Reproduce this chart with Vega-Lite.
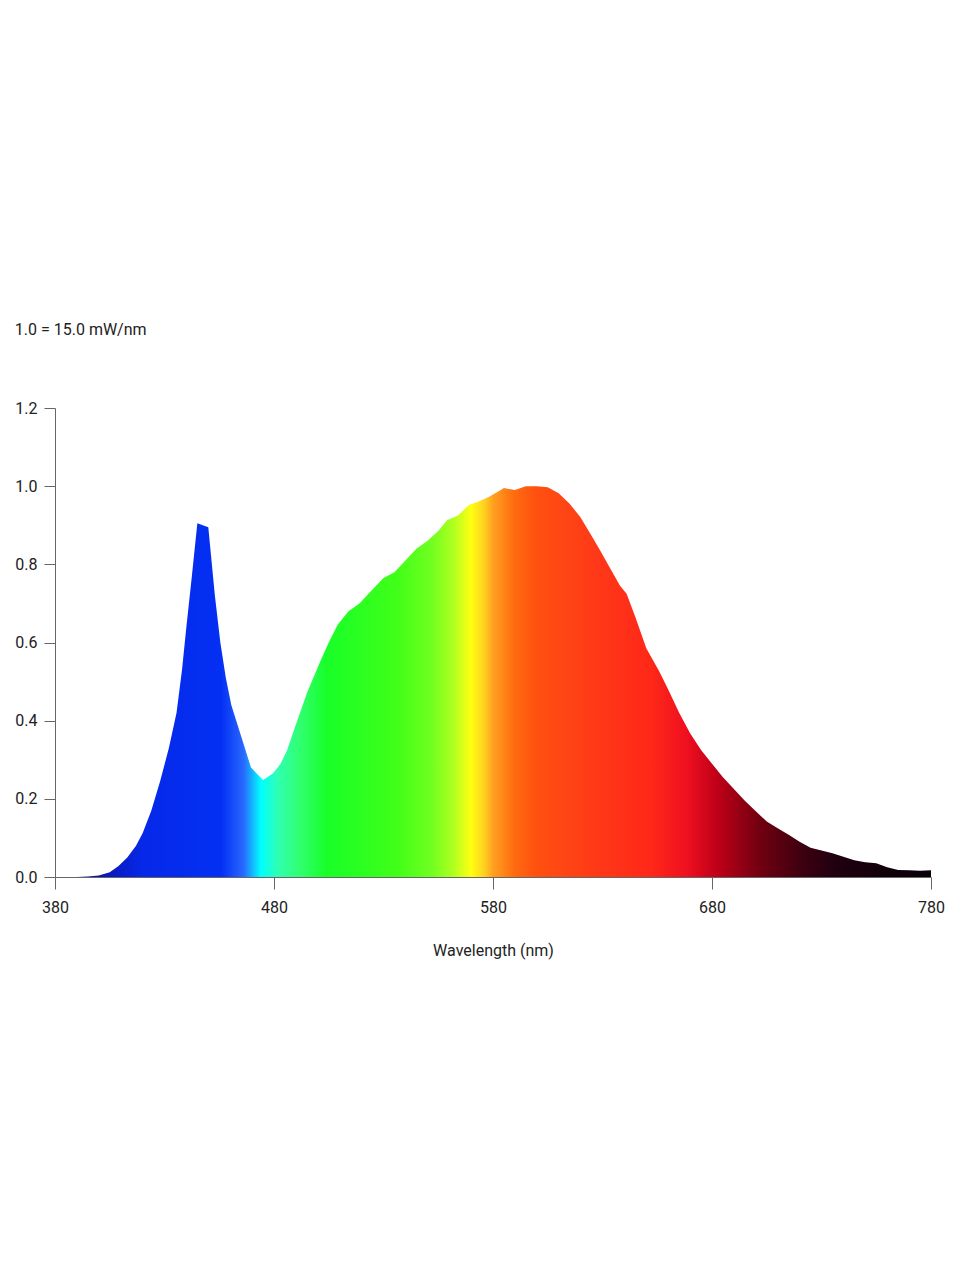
{
  "$schema": "https://vega.github.io/schema/vega-lite/v6.json",
  "autosize": {"type": "none"},
  "width": 876,
  "height": 469,
  "padding": {"left": 55, "top": 408, "right": 29, "bottom": 403},
  "background": "white",
  "title": {
    "text": "1.0 = 15.0 mW/nm",
    "anchor": "start",
    "frame": "bounds",
    "offset": 62,
    "font": "Roboto",
    "fontSize": 16,
    "fontWeight": "normal",
    "color": "#222222"
  },
  "config": {
    "view": {"stroke": null},
    "axis": {
      "grid": false,
      "domainColor": "#666666",
      "tickColor": "#666666",
      "labelFont": "Roboto",
      "titleFont": "Roboto",
      "labelFontSize": 16,
      "titleFontSize": 16,
      "titleFontWeight": "normal",
      "labelColor": "#222222",
      "titleColor": "#222222",
      "labelFlush": false
    }
  },
  "data": {
    "values": [
      {"wl": 380, "v": 0}, {"wl": 390, "v": 0}, {"wl": 395, "v": 0.001},
      {"wl": 400, "v": 0.004}, {"wl": 405, "v": 0.012}, {"wl": 409, "v": 0.028},
      {"wl": 413, "v": 0.05}, {"wl": 417, "v": 0.08}, {"wl": 420, "v": 0.112},
      {"wl": 424, "v": 0.17}, {"wl": 428, "v": 0.245}, {"wl": 432, "v": 0.33},
      {"wl": 435.5, "v": 0.42}, {"wl": 438, "v": 0.53}, {"wl": 440, "v": 0.64},
      {"wl": 442.5, "v": 0.77}, {"wl": 445, "v": 0.905}, {"wl": 450, "v": 0.895},
      {"wl": 453, "v": 0.72}, {"wl": 455.5, "v": 0.6}, {"wl": 458, "v": 0.51},
      {"wl": 460.5, "v": 0.44}, {"wl": 465, "v": 0.36}, {"wl": 469.5, "v": 0.28},
      {"wl": 475, "v": 0.248}, {"wl": 479.5, "v": 0.265}, {"wl": 483, "v": 0.29},
      {"wl": 486, "v": 0.325}, {"wl": 490, "v": 0.39}, {"wl": 495, "v": 0.47},
      {"wl": 501, "v": 0.55}, {"wl": 505, "v": 0.6}, {"wl": 509, "v": 0.645},
      {"wl": 514, "v": 0.68}, {"wl": 519, "v": 0.7}, {"wl": 524, "v": 0.73},
      {"wl": 530, "v": 0.765}, {"wl": 535, "v": 0.78}, {"wl": 540, "v": 0.81},
      {"wl": 545, "v": 0.84}, {"wl": 550, "v": 0.86}, {"wl": 555, "v": 0.885},
      {"wl": 559, "v": 0.913}, {"wl": 564, "v": 0.925}, {"wl": 569, "v": 0.952},
      {"wl": 574, "v": 0.962}, {"wl": 578, "v": 0.972}, {"wl": 582, "v": 0.985},
      {"wl": 585, "v": 0.995}, {"wl": 590, "v": 0.99}, {"wl": 595, "v": 1.0},
      {"wl": 600, "v": 1.0}, {"wl": 605, "v": 0.997}, {"wl": 610, "v": 0.982},
      {"wl": 615, "v": 0.955}, {"wl": 620, "v": 0.92}, {"wl": 625, "v": 0.873},
      {"wl": 629, "v": 0.835}, {"wl": 634, "v": 0.785}, {"wl": 638, "v": 0.745},
      {"wl": 641, "v": 0.725}, {"wl": 645, "v": 0.665}, {"wl": 650, "v": 0.585},
      {"wl": 656, "v": 0.525}, {"wl": 660, "v": 0.48}, {"wl": 665, "v": 0.42},
      {"wl": 670, "v": 0.368}, {"wl": 675, "v": 0.325}, {"wl": 680, "v": 0.29},
      {"wl": 685, "v": 0.255}, {"wl": 690, "v": 0.225}, {"wl": 695, "v": 0.195},
      {"wl": 700, "v": 0.168}, {"wl": 705, "v": 0.142}, {"wl": 710, "v": 0.125},
      {"wl": 715, "v": 0.108}, {"wl": 720, "v": 0.09}, {"wl": 725, "v": 0.075},
      {"wl": 730, "v": 0.068}, {"wl": 735, "v": 0.061}, {"wl": 740, "v": 0.052},
      {"wl": 745, "v": 0.043}, {"wl": 750, "v": 0.038}, {"wl": 755, "v": 0.035},
      {"wl": 760, "v": 0.025}, {"wl": 765, "v": 0.018}, {"wl": 770, "v": 0.017},
      {"wl": 775, "v": 0.016}, {"wl": 780, "v": 0.017}
    ]
  },
  "mark": {
    "type": "area",
    "interpolate": "linear",
    "color": {
      "gradient": "linear",
      "x1": 0, "y1": 0, "x2": 1, "y2": 0,
      "stops": [
        {"offset": 0, "color": "#0a0a60"},
        {"offset": 0.07, "color": "#0a1cc8"},
        {"offset": 0.1, "color": "#0628e8"},
        {"offset": 0.19, "color": "#0430f4"},
        {"offset": 0.215, "color": "#2868ff"},
        {"offset": 0.235, "color": "#00ffff"},
        {"offset": 0.255, "color": "#30ffb0"},
        {"offset": 0.28, "color": "#30ff70"},
        {"offset": 0.31, "color": "#18ff28"},
        {"offset": 0.39, "color": "#40ff18"},
        {"offset": 0.43, "color": "#70ff20"},
        {"offset": 0.455, "color": "#b0ff20"},
        {"offset": 0.475, "color": "#ffff10"},
        {"offset": 0.49, "color": "#ffd020"},
        {"offset": 0.5, "color": "#ffa020"},
        {"offset": 0.525, "color": "#ff6a10"},
        {"offset": 0.55, "color": "#ff5010"},
        {"offset": 0.62, "color": "#ff3818"},
        {"offset": 0.68, "color": "#ff2818"},
        {"offset": 0.72, "color": "#f01020"},
        {"offset": 0.755, "color": "#c00018"},
        {"offset": 0.805, "color": "#700010"},
        {"offset": 0.85, "color": "#400010"},
        {"offset": 0.89, "color": "#200010"},
        {"offset": 0.95, "color": "#100008"},
        {"offset": 1, "color": "#0a0008"}
      ]
    }
  },
  "encoding": {
    "x": {
      "field": "wl",
      "type": "quantitative",
      "title": "Wavelength (nm)",
      "scale": {"domain": [380, 780], "nice": false, "zero": false},
      "axis": {
        "values": [380, 480, 580, 680, 780],
        "tickSize": 12,
        "labelPadding": 10,
        "titlePadding": 27
      }
    },
    "y": {
      "field": "v",
      "type": "quantitative",
      "title": null,
      "scale": {"domain": [0, 1.2], "nice": false},
      "axis": {
        "values": [0, 0.2, 0.4, 0.6, 0.8, 1.0, 1.2],
        "format": ".1f",
        "tickSize": 11,
        "labelPadding": 7
      }
    }
  }
}
